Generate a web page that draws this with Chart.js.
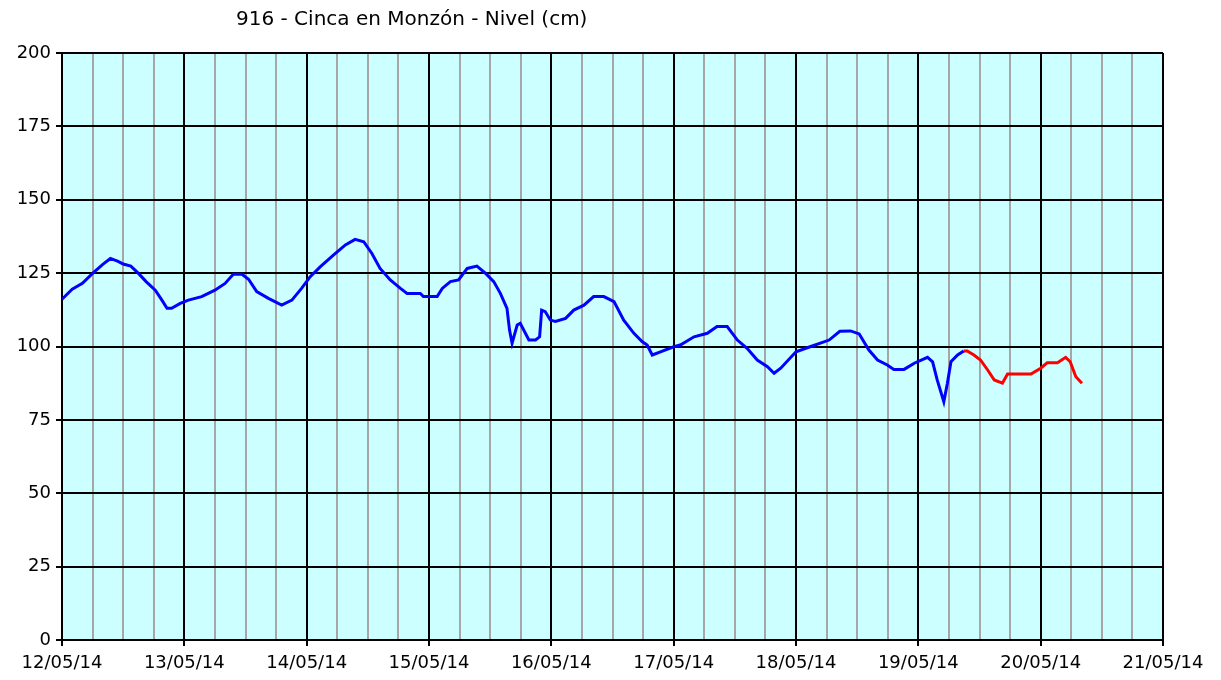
<!DOCTYPE html>
<html lang="es">
<head>
    <meta charset="UTF-8">
    <title>916 - Cinca en Monzón - Nivel (cm)</title>
    <script src="https://cdn.jsdelivr.net/npm/chart.js"></script>
    <style>
        body { margin: 0; background: #fff; }
        #caja { position: relative; width: 1221px; height: 680px; }
        #titulo {
            position: absolute; left: 236px; top: 6px; margin: 0;
            font-family: "DejaVu Sans", sans-serif; font-size: 20px; font-weight: normal; color: #000;
        }
    </style>
</head>
<body>
<div id="caja">
    <h1 id="titulo">916 - Cinca en Monzón - Nivel (cm)</h1>
    <canvas id="grafico" width="1221" height="680"></canvas>
</div>

<script>
// etiquetas de los días (cada 24 h)
var dias = ['12/05/14', '13/05/14', '14/05/14', '15/05/14', '16/05/14',
            '17/05/14', '18/05/14', '19/05/14', '20/05/14', '21/05/14'];

// nivel medido (horas desde 12/05 00:00, cm)
var horasMedidas = [0, 2, 4, 6, 8, 9.5, 11, 12, 13.5, 15, 16.5, 18.3, 19.6, 20.6, 21.5, 23.2,
    24.8, 27.4, 30, 32, 33.6, 35.3, 36.6, 38.2, 40.5, 43.1, 45.1, 47, 48.7, 50.7, 53.3, 55.6,
    57.5, 59.2, 60.8, 62.4, 64.4, 66.4, 67.7, 70.3, 70.9, 73.6, 74.6, 76.2, 77.8, 79.5, 81.4,
    83.1, 84.7, 86, 87.3, 87.8, 88.3, 89.3, 89.9, 91.6, 92.9, 93.7, 94.1, 94.8, 95.8, 96.8,
    98.8, 100.4, 102.4, 104.3, 106.3, 108.3, 110.2, 112.2, 113.8, 114.8, 115.8, 117.4, 120,
    121.3, 124, 126.6, 128.5, 130.5, 132.5, 134.4, 136.4, 138.4, 139.7, 141, 144, 146.9, 150.5,
    152.6, 154.7, 156.4, 158.3, 160, 161.9, 163.2, 165.2, 167.2, 169.8, 170.8, 171.7, 173,
    173.7, 174.4, 175.7, 176.9];
var nivelMedido = [116.1, 119.5, 121.5, 124.9, 128, 130, 129, 128.1, 127.4, 124.9, 122.1, 119.2,
    115.8, 113, 113, 114.7, 115.8, 117, 119.2, 121.5, 124.6, 124.6, 122.9, 118.7, 116.4, 114.1,
    115.8, 119.8, 123.8, 127.2, 131.2, 134.6, 136.5, 135.7, 131.7, 126.6, 122.7, 119.8, 118.1,
    118.1, 117, 117, 119.8, 122.1, 122.7, 126.6, 127.4, 124.9, 122.1, 118.1, 113, 105.6, 101.1,
    107.3, 107.9, 102.2, 102.2, 103.3, 112.4, 111.9, 109, 108.5, 109.6, 112.4, 114.1, 117, 117,
    115.3, 109, 104.5, 101.7, 100.5, 97.1, 98.2, 99.9, 100.5, 103.3, 104.5, 106.8, 106.8, 102.2,
    99.4, 95.4, 93.1, 90.9, 92.6, 98.2, 100, 102.2, 105.2, 105.3, 104.3, 98.8, 95.4, 93.7, 92.2,
    92.2, 94.3, 96.3, 94.8, 88.6, 81.2, 87.5, 94.8, 97.1, 98.5];

// nivel previsto
var horasPrevistas = [176.9, 177.6, 178.9, 180.2, 181.6, 182.9, 184.5, 185.5, 190.1, 192,
    193.3, 195.3, 196.9, 197.8, 198.9, 200.1];
var nivelPrevisto = [98.5, 98.5, 97.1, 95.4, 92, 88.6, 87.5, 90.6, 90.6, 92.6, 94.5, 94.5,
    96.3, 94.8, 89.7, 87.5];

var ticksY = [0, 25, 50, 75, 100, 125, 150, 175, 200];

function puntos(xs, ys) {
    var lista = [];
    for (var i = 0; i < xs.length; i++) {
        lista.push({ x: xs[i], y: ys[i] });
    }
    return lista;
}

// fondo celeste del área del gráfico
var fondoArea = {
    id: 'fondoArea',
    beforeDraw: function (chart) {
        var a = chart.chartArea;
        var ctx = chart.ctx;
        ctx.save();
        ctx.fillStyle = '#CCFFFF';
        ctx.fillRect(a.left, a.top, a.right - a.left, a.bottom - a.top);
        ctx.restore();
    }
};

var fuente = { family: 'DejaVu Sans', size: 18 };

new Chart(document.getElementById('grafico'), {
    type: 'line',
    data: {
        datasets: [
            {
                data: puntos(horasMedidas, nivelMedido),
                borderColor: '#0000FF',
                borderWidth: 3,
                pointRadius: 0,
                tension: 0
            },
            {
                data: puntos(horasPrevistas, nivelPrevisto),
                borderColor: '#FF0000',
                borderWidth: 3,
                pointRadius: 0,
                tension: 0
            }
        ]
    },
    options: {
        responsive: false,
        animation: false,
        layout: { padding: { top: 53, right: 58, left: 0, bottom: 0 } },
        plugins: {
            legend: { display: false },
            tooltip: { enabled: false },
            title: { display: false }
        },
        scales: {
            x: {
                type: 'linear',
                min: 0,
                max: 216,
                afterFit: function (s) { s.height = 40; },
                ticks: {
                    stepSize: 6,
                    autoSkip: false,
                    maxRotation: 0,
                    color: '#000',
                    font: fuente,
                    padding: 7,
                    callback: function (v) {
                        return v % 24 === 0 ? dias[v / 24] : '';
                    }
                },
                grid: {
                    color: function (c) {
                        return c.tick && c.tick.value % 24 === 0 ? '#000000' : '#A6A6A6';
                    },
                    tickColor: function (c) {
                        return c.tick && c.tick.value % 24 === 0 ? '#000000' : 'rgba(0,0,0,0)';
                    },
                    lineWidth: 2,
                    tickLength: 6
                },
                border: { color: '#000', width: 2 }
            },
            y: {
                min: 0,
                max: 200,
                afterFit: function (s) { s.width = 62; },
                afterBuildTicks: function (s) {
                    s.ticks = ticksY.map(function (v) { return { value: v }; });
                },
                ticks: { color: '#000', font: fuente, padding: 5 },
                grid: { color: '#000', lineWidth: 2, tickLength: 6 },
                border: { color: '#000', width: 2 }
            }
        }
    },
    plugins: [fondoArea]
});
</script>
</body>
</html>
